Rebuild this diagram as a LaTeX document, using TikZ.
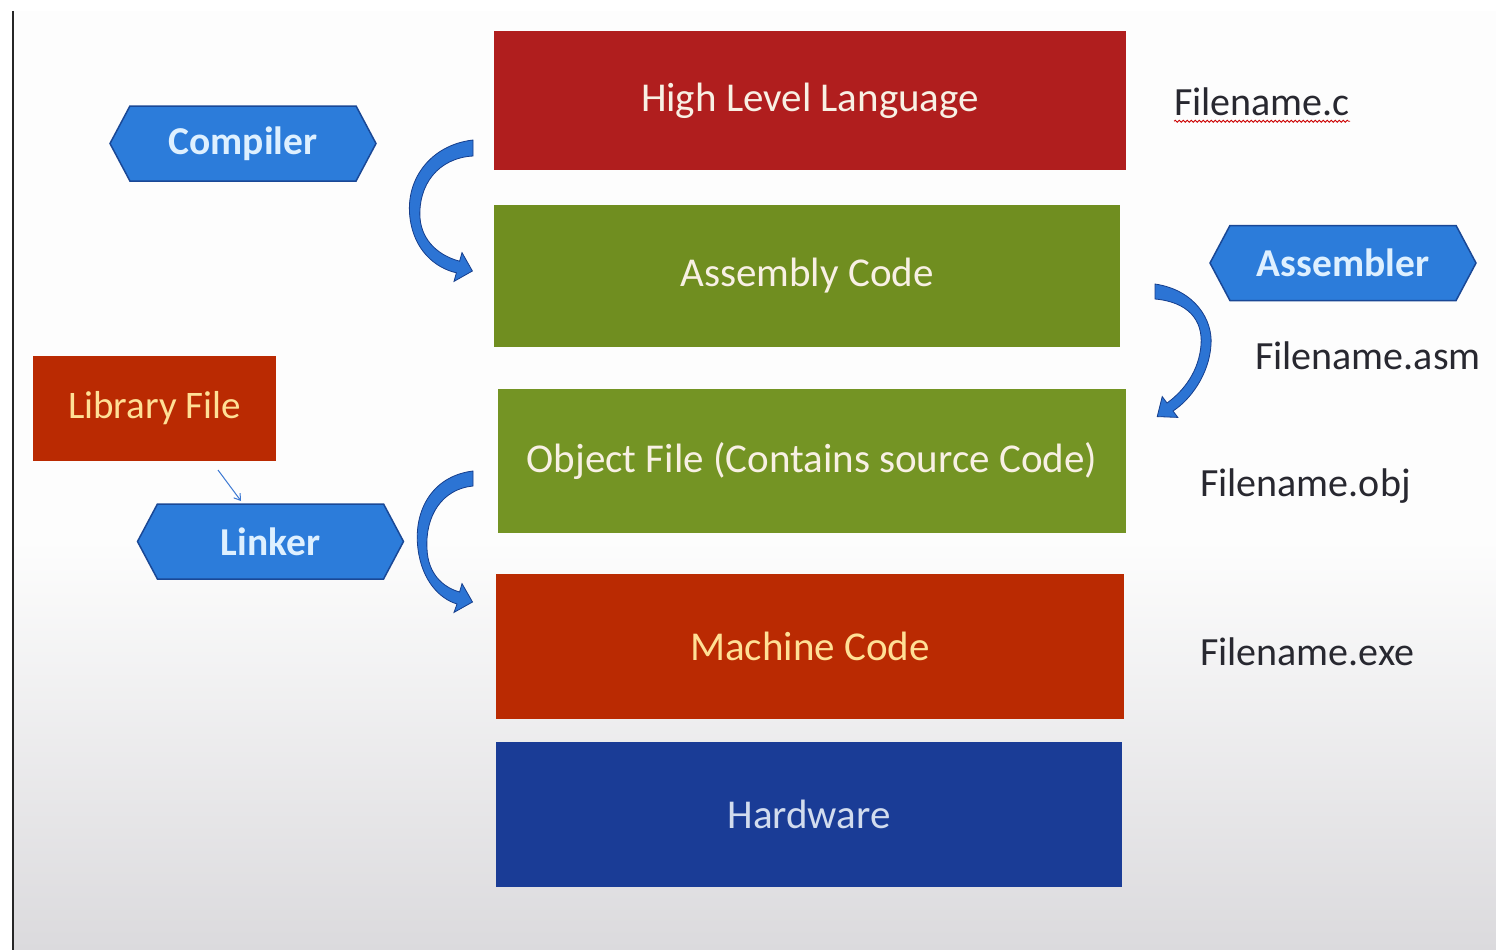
\documentclass[tikz,border=0pt]{standalone}
\usepackage{fontspec}
\setmainfont{Carlito}
\usetikzlibrary{shapes.symbols,decorations.pathmorphing,arrows.meta}
\definecolor{hllred}{RGB}{176,30,30}
\definecolor{asmgreen}{RGB}{112,142,32}
\definecolor{objgreen}{RGB}{116,148,36}
\definecolor{mcred}{RGB}{186,42,2}
\definecolor{hwblue}{RGB}{26,60,150}
\definecolor{hexfill}{RGB}{44,124,218}
\definecolor{hexline}{RGB}{26,72,150}
\definecolor{arrfill}{RGB}{44,116,212}
\definecolor{arrline}{RGB}{22,62,140}
\definecolor{txtlight}{RGB}{248,240,228}
\definecolor{txtyellow}{RGB}{255,224,150}
\definecolor{txtblue}{RGB}{210,220,238}
\definecolor{hextxt}{RGB}{222,240,255}
\definecolor{fntxt}{RGB}{40,40,48}
\definecolor{bgtop}{RGB}{253,253,253}
\definecolor{bgbot}{RGB}{219,218,221}
\definecolor{smallarr}{RGB}{60,120,210}
\tikzset{
  layer/.style={rectangle, inner sep=0pt, font=\fontsize{41}{48}\selectfont, text=txtlight},
  hexa/.style={signal, signal to=west and east, signal pointer angle=124, draw=hexline, line width=1.5pt, fill=hexfill, minimum width=266pt, minimum height=75pt, inner sep=0pt, text=hextxt, font=\bfseries\fontsize{39.5}{46}\selectfont},
  fname/.style={anchor=west, text=fntxt, font=\fontsize{40}{47}\selectfont, inner sep=0pt},
  curv/.style={fill=arrfill, draw=arrline, line width=0.8pt}
}
\begin{document}
\begin{tikzpicture}[x=1pt,y=-1pt]
\useasboundingbox (0,0) rectangle (1496,950);
% background
\fill[white] (0,0) rectangle (1496,950);
\fill[bgtop] (13,11) rectangle (1496,540);
\shade[top color=bgtop, bottom color=bgbot] (13,540) rectangle (1496,950);
\draw[black!85, line width=2.5pt] (13,11) -- (13,950);

% layers
\node[layer, fill=hllred, minimum width=632pt, minimum height=139pt] (hll) at (810,100.5) {High Level Language};
\node[layer, fill=asmgreen, minimum width=626pt, minimum height=142pt] (asm) at (807,276) {Assembly Code};
\node[layer, fill=objgreen, minimum width=628pt, minimum height=144pt] (obj) at (812,461) {Object File (Contains source Code)};
\node[layer, fill=mcred, minimum width=628pt, minimum height=145pt, text=txtyellow] (mc) at (810,646.5) {Machine Code};
\node[layer, fill=hwblue, minimum width=626pt, minimum height=145pt, text=txtblue] (hw) at (809,814.5) {Hardware};
\node[layer, fill=mcred, minimum width=243pt, minimum height=105pt, text=txtyellow, font=\fontsize{39}{46}\selectfont] (lib) at (154.5,408.5) {Library File};

% tools
\node[hexa] (comp) at (243,143.5) {Compiler};
\node[hexa] (asmb) at (1343,263) {Assembler};
\node[hexa] (link) at (270.5,541.5) {Linker};

% file names
\node[fname] (fnc) at (1174,102) {Filename.c};
\node[fname] (fnasm) at (1255,356) {Filename.asm};
\node[fname] (fnobj) at (1200,486) {Filename.obj};
\node[fname] (fnexe) at (1200,652) {Filename.exe};
\draw[red!80!black, line width=0.8pt, decorate, decoration={snake, amplitude=1pt, segment length=4pt}]
  ([yshift=-5pt]fnc.south west) -- ([yshift=-5pt]fnc.south east);

% curved block arrows
\filldraw[curv] (473,140) .. controls (430,145) and (405,180) .. (410,218)
  .. controls (414,250) and (435,268) .. (456.4,272.8) -- (454,281.4) -- (472.4,271) -- (462,252.6) -- (459.6,261.2)
  .. controls (440,256) and (422,242) .. (420,218) .. controls (418,185) and (438,158) .. (473,156) -- cycle;
\filldraw[curv] (1155,284) .. controls (1195,290) and (1213,320) .. (1211,345)
  .. controls (1209,375) and (1190,400) .. (1173,411) -- (1177.8,417.4) -- (1157.2,416.6) -- (1162.2,396.6) -- (1167,403)
  .. controls (1185,390) and (1199,370) .. (1201,345) .. controls (1203,320) and (1188,302) .. (1155,299) -- cycle;
\filldraw[curv] (473,471) .. controls (432,476) and (413,511) .. (418,549)
  .. controls (422,581) and (440,599) .. (457,604) -- (454,612.4) -- (472.5,602) -- (462,583.6) -- (459.6,592)
  .. controls (442,587) and (428,573) .. (427,549) .. controls (425,516) and (442,489) .. (473,486) -- cycle;

% library -> linker
\coordinate (la) at (218,470);
\coordinate (lb) at (241,501);
\draw[smallarr, line width=1pt, -{Straight Barb[length=6pt,width=8pt]}] (la) -- (lb);
\end{tikzpicture}
\end{document}
